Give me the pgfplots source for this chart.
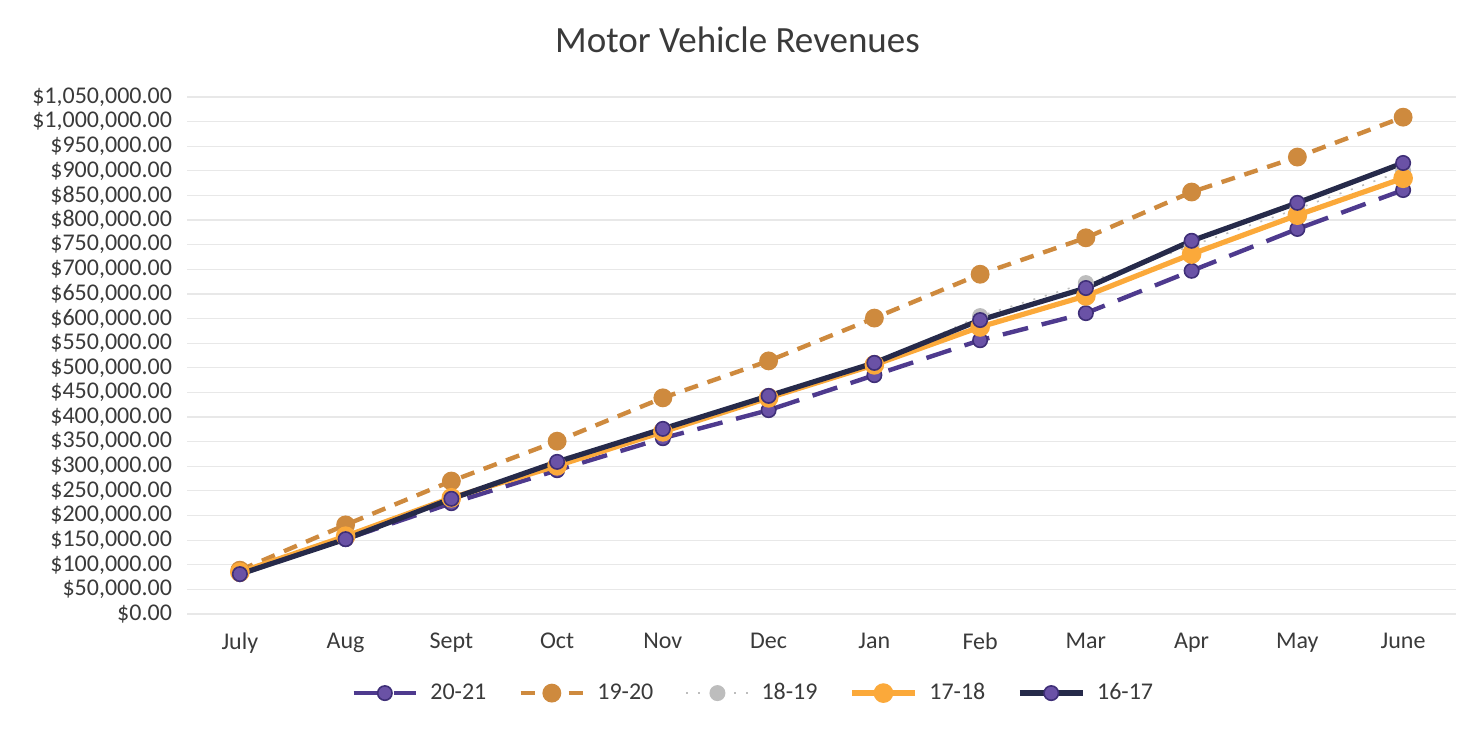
\documentclass[border=0pt]{standalone}
\usepackage{pgfplots}
\pgfplotsset{compat=1.18}
\usepackage{fontspec}
\setmainfont{Carlito}
\definecolor{pur}{HTML}{6A52A6}
\definecolor{purdark}{HTML}{3F2F78}
\definecolor{purline}{HTML}{4E3A8E}
\definecolor{dorange}{HTML}{CE8A3E}
\definecolor{lorange}{HTML}{FBA93A}
\definecolor{navy}{HTML}{262A4A}
\definecolor{gr}{HTML}{BDBDBD}
\definecolor{txt}{HTML}{3A3A3A}
\begin{document}
\begin{tikzpicture}
\begin{axis}[
  name=ax,
  scale only axis,
  width=634.5pt, height=258.5pt,
  xmin=-0.5, xmax=11.5,
  ymin=0, ymax=1050000,
  xtick={0,...,11},
  xticklabels={July,Aug,Sept,Oct,Nov,Dec,Jan,Feb,Mar,Apr,May,June},
  ytick={0,50000,...,1050000},
  yticklabel={\$\pgfmathprintnumber[fixed,fixed zerofill,precision=2,1000 sep={,},assume math mode=true]{\tick}},
  scaled y ticks=false,
  /pgf/number format/assume math mode=true,
  ymajorgrids,
  grid style={draw=black!9, line width=0.6pt},
  axis line style={draw=none},
  major tick length=0pt,
  tick label style={font=\fontsize{12}{14}\selectfont, text=txt},
  yticklabel style={xshift=-4pt},
  xticklabel style={yshift=-6pt},
  clip=false,
  legend columns=5,
  legend style={at={(0.447,-0.153)}, anchor=center, draw=none, fill=none,
    font=\fontsize{12}{14}\selectfont, text=txt,
    /tikz/every odd column/.append style={column sep=4pt},
    /tikz/every even column/.append style={column sep=14pt}},
  legend image code/.code={\draw[mark repeat=2,mark phase=2] plot coordinates {(0cm,0cm)(0.55cm,0cm)(1.1cm,0cm)};},
  mark size=3.6pt,
]
% 20-21
\addplot[purline, line width=2.2pt, dash pattern=on 13pt off 7pt,
  mark=*, mark options={solid, fill=pur, draw=purdark, line width=0.8pt}]
coordinates {(0,81000)(1,152000)(2,225000)(3,292000)(4,357000)(5,414000)(6,485000)(7,556000)(8,611000)(9,697000)(10,782000)(11,861000)};
\addlegendentry{20-21}
% 19-20
\addplot[dorange, line width=2.2pt, dash pattern=on 7pt off 5pt,
  mark=*, mark options={solid, fill=dorange, draw=dorange}]
coordinates {(0,89000)(1,181000)(2,270000)(3,351000)(4,439000)(5,514000)(6,601000)(7,690000)(8,764000)(9,857000)(10,928000)(11,1009000)};
\addlegendentry{19-20}
% 18-19
\addplot[gr, line width=0.8pt, dash pattern=on 1pt off 5pt,
  mark=*, mark options={solid, fill=gr, draw=gr}]
coordinates {(0,83000)(1,155000)(2,235000)(3,305000)(4,373000)(5,441000)(6,508000)(7,605000)(8,672000)(9,748000)(10,823000)(11,900000)};
\addlegendentry{18-19}
% 17-18
\addplot[lorange, line width=2.6pt,
  mark=*, mark options={solid, fill=lorange, draw=lorange}]
coordinates {(0,85000)(1,158000)(2,236000)(3,301000)(4,370000)(5,439000)(6,506000)(7,583000)(8,646000)(9,731000)(10,810000)(11,885000)};
\addlegendentry{17-18}
% 16-17
\addplot[navy, line width=2.6pt,
  mark=*, mark options={solid, fill=pur, draw=purdark, line width=0.8pt}]
coordinates {(0,81000)(1,152000)(2,234000)(3,309000)(4,376000)(5,443000)(6,510000)(7,597000)(8,662000)(9,758000)(10,835000)(11,916000)};
\addlegendentry{16-17}
\end{axis}
\node[font=\fontsize{18.5}{22}\selectfont, text=txt, anchor=center] at ([xshift=-42pt,yshift=28.5pt]ax.north) {Motor Vehicle Revenues};
\pgfresetboundingbox
\path[use as bounding box] ([xshift=-93.5pt,yshift=-62pt]ax.south west) rectangle ([xshift=9pt,yshift=48.5pt]ax.north east);
\end{tikzpicture}
\end{document}
